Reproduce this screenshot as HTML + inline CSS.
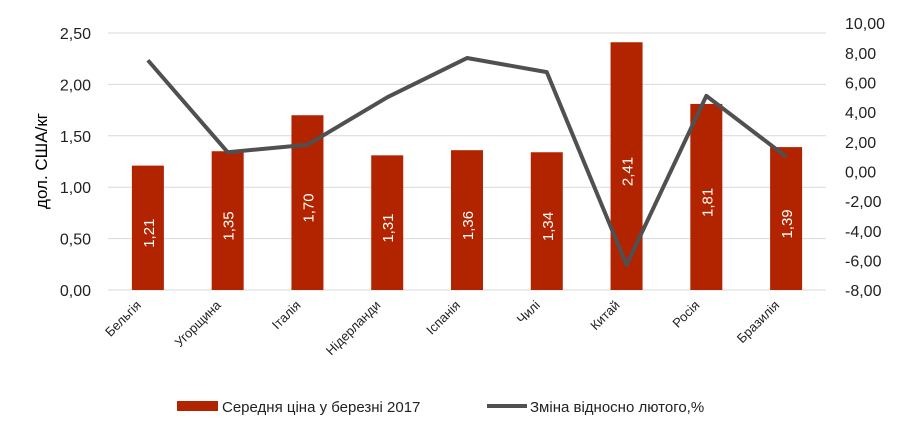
<!DOCTYPE html>
<html><head><meta charset="utf-8"><style>
body{margin:0;background:#fff;}
svg text{font-family:"Liberation Sans","DejaVu Sans",sans-serif;}
</style></head><body>
<svg id="chart" width="900" height="436" viewBox="0 0 900 436" xmlns="http://www.w3.org/2000/svg">
<g id="grid"></g>
<g id="bars"></g>
<g id="line"></g>
<g id="axes"></g>
<text transform="translate(47,161) rotate(-90)" text-anchor="middle" font-size="17" fill="#000">дол. США/кг</text>
<g>
<g>
<rect x="177" y="401" width="41" height="10" fill="#B22400"/>
<text x="222" y="412" font-size="15" fill="#222">Середня ціна у березні 2017</text>
</g>
<g>
<line x1="487" y1="406" x2="527" y2="406" stroke="#505050" stroke-width="4"/>
<text x="530" y="412" font-size="15" fill="#222">Зміна відносно лютого,%</text>
</g>
</g>
</svg>
<script>
const categories=["Бельгія","Угорщина","Італія","Нідерланди","Іспанія","Чилі","Китай","Росія","Бразилія"];
const prices=[1.21,1.35,1.70,1.31,1.36,1.34,2.41,1.81,1.39];
const changes=[7.5,1.3,1.8,5.0,7.65,6.7,-6.3,5.1,1.0];
const leftTicks=[0,0.5,1,1.5,2,2.5];
const rightTicks=[-8,-6,-4,-2,0,2,4,6,8,10];
const NS="http://www.w3.org/2000/svg";
const X0=108,X1=826,band=(X1-X0)/categories.length;
const yL=v=>290-v*(257/2.5);
const yR=v=>171.5-v*(267/18);
const xC=i=>X0+band*(i+0.5);
const fmt=v=>v.toFixed(2).replace('.',',');
function mk(t,a,p){const e=document.createElementNS(NS,t);for(const k in a)e.setAttribute(k,a[k]);p.appendChild(e);return e;}
const grid=document.getElementById('grid'),bars=document.getElementById('bars'),line=document.getElementById('line'),axes=document.getElementById('axes');
leftTicks.forEach(v=>{
const g=mk('line',{x1:X0,x2:X1,y1:yL(v),y2:yL(v),stroke:'#d9d9d9','stroke-width':1},grid);


const t=mk('text',{x:91,y:yL(v)+6,'text-anchor':'end','font-size':16,fill:'#222'},axes);
t.textContent=fmt(v);


});
rightTicks.forEach(v=>{
const t=mk('text',{x:845,y:yR(v)+6,'font-size':16,fill:'#222'},axes);
t.textContent=fmt(v);


});
categories.forEach((c,i)=>{
const cx=xC(i),w=32;
const r=mk('rect',{x:cx-w/2,y:yL(prices[i]),width:w,height:290-yL(prices[i]),fill:'#B22400'},bars);


const lb=mk('text',{transform:`translate(${cx+6},${(yL(prices[i])+290)/2+20}) rotate(-90)`,'font-size':15,fill:'#fff'},bars);
lb.textContent=fmt(prices[i]);


const xl=mk('text',{transform:`translate(${cx-6},${306}) rotate(-45)`,'text-anchor':'end','font-size':13,fill:'#222'},axes);
xl.textContent=c;


});
const pts=changes.map((v,i)=>xC(i)+','+yR(v)).join(' ');
const pl=mk('polyline',{points:pts,fill:'none',stroke:'#505050','stroke-width':4,'stroke-linejoin':'round'},line);


</script>
</body></html>
